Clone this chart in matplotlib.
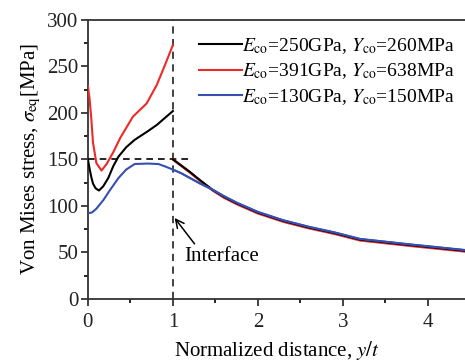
import matplotlib.pyplot as plt
import numpy as np

plt.rcParams['font.family'] = 'Liberation Serif'
plt.rcParams['mathtext.fontset'] = 'stix'

# coating side (y/t < 1)
x_in_red = [0, 0.02, 0.04, 0.06, 0.1, 0.16, 0.22, 0.3, 0.38, 0.53, 0.69, 0.81, 0.9, 1.0]
red_in = [229, 215, 194, 168, 146, 138, 145, 158, 173, 196, 210, 230, 250, 273]

x_in_black = [0, 0.02, 0.04, 0.06, 0.09, 0.13, 0.18, 0.24, 0.3, 0.36, 0.45, 0.55, 0.7, 0.81, 1.0]
black_in = [150, 140, 131, 124, 119, 116.5, 121, 130, 143, 153, 163, 171, 180, 187, 202]

x_in_blue = [0, 0.05, 0.1, 0.18, 0.26, 0.36, 0.45, 0.55, 0.7, 0.83, 0.92, 1.0]
blue_in = [92, 93, 97, 106, 117, 130, 139, 145, 145.5, 145, 142, 139]

# substrate side (y/t > 1)
x_out = [1.0, 1.1, 1.2, 1.32, 1.47, 1.6, 1.75, 2.0, 2.3, 2.6, 2.9, 3.2, 3.8, 4.44]
red_out = [150, 143, 136, 127, 116.5, 109, 102, 92, 83, 76, 70, 63, 57, 51]
black_out = [150, 143.3, 136.5, 127.6, 117, 109.7, 102.8, 92.8, 83.8, 76.8, 70.8, 63.8, 57.8, 51.8]
blue_out = [139, 135, 130, 124, 117.3, 110.5, 103.5, 93.5, 84.5, 77.5, 71.5, 64.5, 58.5, 52.5]

labels = [r'$E_{\rm co}$=250GPa, $Y_{\rm co}$=260MPa',
          r'$E_{\rm co}$=391GPa, $Y_{\rm co}$=638MPa',
          r'$E_{\rm co}$=130GPa, $Y_{\rm co}$=150MPa']

c_red = '#f02828'
c_blue = '#3550b0'

fig = plt.figure(figsize=(4.65, 3.61), dpi=100)
ax = fig.add_axes([0.189, 0.172, 0.811, 0.773])

ax.plot(x_in_black, black_in, color='k', lw=1.5, label=labels[0], zorder=4)
ax.plot(x_in_red, red_in, color=c_red, lw=1.5, label=labels[1], zorder=3)
ax.plot(x_in_blue + x_out[1:], blue_in + blue_out[1:], color=c_blue, lw=1.5, label=labels[2], zorder=5)
ax.plot(x_out, red_out, color=c_red, lw=1.8, zorder=3)
ax.plot(x_out, black_out, color='k', lw=1.5, zorder=4)
ax.plot(x_out, blue_out, color=c_blue, lw=1.3, zorder=5)

ax.axvline(1.0, color='#333333', ls=(0, (4, 3)), lw=1.3, zorder=2)
ax.plot([0, 1.2], [150, 150], color='k', ls=(0, (4, 3)), lw=1.2, zorder=2)

ax.annotate('Interface', xy=(1.02, 87), xytext=(1.13, 46), fontsize=15,
            va='center', ha='left',
            arrowprops=dict(arrowstyle='->', color='k', lw=1.1,
                            shrinkA=0, shrinkB=0, relpos=(0.17, 1.0)))

ax.set_xlim(0, 4.435)
ax.set_ylim(0, 300)
ax.set_xticks([0, 1, 2, 3, 4])
ax.set_xticks(np.arange(0.5, 4.5, 1.0), minor=True)
ax.set_yticks(np.arange(0, 301, 50))
ax.set_yticks(np.arange(25, 300, 50), minor=True)
ax.tick_params(which='major', direction='out', length=5, width=1.2, labelsize=15, colors='#222222')
ax.tick_params(which='minor', direction='out', length=3, width=1.2)
ax.tick_params(axis='x', pad=5)
ax.tick_params(axis='y', pad=2)

for s in ['left', 'bottom', 'top']:
    ax.spines[s].set_linewidth(1.3)
    ax.spines[s].set_color('#333333')
ax.spines['right'].set_visible(False)

ax.set_xlabel(r'Normalized distance, $y/t$', fontsize=15, labelpad=5)
ax.set_ylabel(r'Von Mises stress, $\sigma_{\rm eq}$[MPa]', fontsize=15, labelpad=3)

ax.legend(loc='upper left', bbox_to_anchor=(0.275, 0.97), frameon=False, fontsize=14,
          handlelength=2.2, handletextpad=0.0, labelspacing=0.3, borderaxespad=0)

fig.savefig('out.png', dpi=100)
